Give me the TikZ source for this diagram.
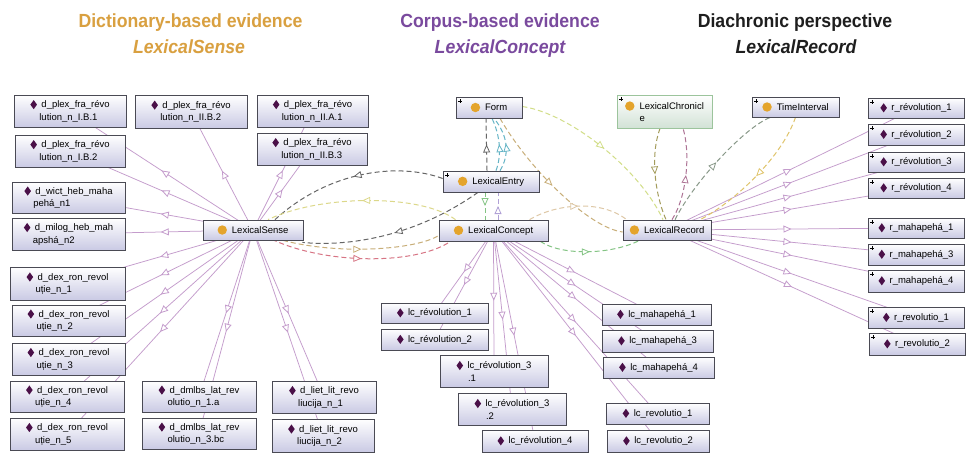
\documentclass[tikz,border=0pt]{standalone}
\usepackage{fontspec}
\setmainfont{Liberation Sans}
\usetikzlibrary{arrows.meta,decorations.markings,shadows,calc}

% palette
\definecolor{dictcol}{HTML}{D9A040}
\definecolor{corpcol}{HTML}{7A4A9E}
\definecolor{diacol}{HTML}{1E1E1E}
\definecolor{boxedge}{HTML}{4A4A54}
\definecolor{boxfill}{HTML}{CACAE4}
\definecolor{chredge}{HTML}{9CC49C}
\definecolor{chrfill}{HTML}{D2E2D6}
\definecolor{indcol}{HTML}{4A1048}
\definecolor{clscol}{HTML}{E4A42C}
\definecolor{instcol}{HTML}{C49CCC}
\definecolor{egray}{HTML}{666666}
\definecolor{eyellow}{HTML}{DCD88A}
\definecolor{etan}{HTML}{C8AE78}
\definecolor{epink}{HTML}{D77484}
\definecolor{eteal}{HTML}{64B4C6}
\definecolor{egreen}{HTML}{84C484}
\definecolor{eviolet}{HTML}{B0A0D6}
\definecolor{eygreen}{HTML}{D2DE88}
\definecolor{eolive}{HTML}{A49C5C}
\definecolor{eplum}{HTML}{AE7496}
\definecolor{egrgr}{HTML}{889888}
\definecolor{eamber}{HTML}{E0C46A}
\definecolor{efaint}{HTML}{DEC8A6}

\pgfdeclarelayer{paper}
\pgfdeclarelayer{edges}
\pgfsetlayers{paper,edges,main}

% icons
\newcommand\dmd{\tikz[baseline=-0.6ex]\fill[indcol] (0pt,-4.6pt) -- (3.3pt,0pt) -- (0pt,4.6pt) -- (-3.3pt,0pt) -- cycle;}
\newcommand\clsdot{\tikz[baseline=-0.6ex]\fill[clscol] (0pt,0pt) circle (4.7pt);}
\newcommand\indA[1]{\dmd\hspace{4.5pt}#1}
\newcommand\indB[2]{\dmd\hspace{4.5pt}#1\\\hspace*{9pt}#2}
\newcommand\indC[2]{\dmd\hspace{4.5pt}#1\\\hspace*{11.5pt}#2}
\newcommand\clsA[1]{\clsdot\hspace{5pt}#1}
\newcommand\headtext[1]{\scalebox{0.93}[1]{#1}}

\tikzset{
  gbox/.style={draw=boxedge, line width=0.75pt, top color=white, bottom color=boxfill,
    drop shadow={shadow xshift=1.3pt, shadow yshift=-1.3pt, opacity=0.4, fill=black},
    inner xsep=3pt, inner ysep=1pt, align=left, font=\fontsize{9.5}{12.5}\selectfont},
  chrbox/.style={gbox, draw=chredge, bottom color=chrfill},
  plusmark/.style={path picture={
    \draw[line width=0.5pt, black]
      ($(path picture bounding box.north west)+(2.2pt,-4pt)$) -- +(4pt,0pt)
      ($(path picture bounding box.north west)+(4.2pt,-2pt)$) -- +(0pt,-4pt);}},
  ttl/.style={font=\fontsize{19}{22}\selectfont\bfseries, inner sep=0pt, anchor=base},
  ttlit/.style={font=\fontsize{19}{22}\selectfont\bfseries\itshape, inner sep=0pt, anchor=base},
  midtri/.style={postaction={decorate, decoration={markings,
    mark=at position 0.5 with {\arrow{Triangle[open, length=8pt, width=7pt, line width=0.8pt, color=#1, fill=white]}}}}},
  instedge/.style={draw=instcol, line width=0.75pt, midtri=instcol},
  dedge/.style={draw=#1, line width=1pt, dash pattern=on 5pt off 3pt, midtri=#1},
}

\begin{document}
\begin{tikzpicture}[x=1pt, y=-1pt]
\begin{pgfonlayer}{paper}
  \fill[white] (0,0) rectangle (968,456);
\end{pgfonlayer}
\path[use as bounding box] (0,0) rectangle (968,456);

% headings
\node[ttl, text=dictcol] (h1) at (190.5,27) {\headtext{Dictionary-based evidence}};
\node[ttlit, text=dictcol] (h1s) at (189,53) {\headtext{LexicalSense}};
\node[ttl, text=corpcol] (h2) at (500,27) {\headtext{Corpus-based evidence}};
\node[ttlit, text=corpcol] (h2s) at (500,53) {\headtext{LexicalConcept}};
\node[ttl, text=diacol] (h3) at (795,27) {\headtext{Diachronic perspective}};
\node[ttlit, text=diacol] (h3s) at (796,53) {\headtext{LexicalRecord}};

% classes
\node[gbox, minimum width=100pt, minimum height=20pt] (lsense) at (253,230) {\clsA{LexicalSense}};
\node[gbox, plusmark, minimum width=66pt, minimum height=21pt] (form) at (489,107.5) {\clsA{Form}};
\node[gbox, plusmark, minimum width=96pt, minimum height=21pt] (lentry) at (491,181.5) {\clsA{LexicalEntry}};
\node[gbox, minimum width=109pt, minimum height=21pt] (lconcept) at (493.5,230.5) {\clsA{LexicalConcept}};
\node[chrbox, plusmark, minimum width=95pt, minimum height=33pt] (lchron) at (664.5,111.5) {\clsA{LexicalChronicl}\\\hspace*{14.5pt}e};
\node[gbox, plusmark, minimum width=87pt, minimum height=20pt] (tint) at (795.5,107) {\clsA{TimeInterval}};
\node[gbox, minimum width=88pt, minimum height=20pt] (lrec) at (667,230) {\clsA{LexicalRecord}};

% dictionary senses
\node[gbox, minimum width=112pt, minimum height=32pt] (pIBa) at (70,111) {\indB{d\_plex\_fra\_révo}{lution\_n\_I.B.1}};
\node[gbox, minimum width=112pt, minimum height=33pt] (pIIBb) at (191,111.5) {\indB{d\_plex\_fra\_révo}{lution\_n\_II.B.2}};
\node[gbox, minimum width=111pt, minimum height=32pt] (pIIAa) at (312.5,111) {\indB{d\_plex\_fra\_révo}{lution\_n\_II.A.1}};
\node[gbox, minimum width=110pt, minimum height=32pt] (pIIBc) at (312,149) {\indB{d\_plex\_fra\_révo}{lution\_n\_II.B.3}};
\node[gbox, minimum width=110pt, minimum height=32pt] (pIBb) at (70,151) {\indB{d\_plex\_fra\_révo}{lution\_n\_I.B.2}};
\node[gbox, minimum width=113pt, minimum height=31pt] (wict) at (68.5,197.5) {\indB{d\_wict\_heb\_maha}{pehá\_n1}};
\node[gbox, minimum width=113pt, minimum height=32pt] (milog) at (68.5,234) {\indB{d\_milog\_heb\_mah}{apshá\_n2}};
\node[gbox, minimum width=115pt, minimum height=33pt] (dexa) at (67.5,283.5) {\indB{d\_dex\_ron\_revol}{uție\_n\_1}};
\node[gbox, minimum width=113pt, minimum height=31pt] (dexb) at (68.5,320.5) {\indB{d\_dex\_ron\_revol}{uție\_n\_2}};
\node[gbox, minimum width=113pt, minimum height=32pt] (dexc) at (68.5,359) {\indB{d\_dex\_ron\_revol}{uție\_n\_3}};
\node[gbox, minimum width=114pt, minimum height=31pt] (dexd) at (67,396.5) {\indB{d\_dex\_ron\_revol}{uție\_n\_4}};
\node[gbox, minimum width=114pt, minimum height=32pt] (dexe) at (67,434) {\indB{d\_dex\_ron\_revol}{uție\_n\_5}};
\node[gbox, minimum width=114pt, minimum height=31pt] (dmlbsa) at (199,396.5) {\indB{d\_dmlbs\_lat\_rev}{olutio\_n\_1.a}};
\node[gbox, minimum width=114pt, minimum height=31pt] (dmlbsb) at (199,433.5) {\indB{d\_dmlbs\_lat\_rev}{olutio\_n\_3.bc}};
\node[gbox, minimum width=104pt, minimum height=32pt] (lieta) at (324,397) {\indB{d\_liet\_lit\_revo}{liucija\_n\_1}};
\node[gbox, minimum width=102pt, minimum height=33pt] (lietb) at (323,435.5) {\indB{d\_liet\_lit\_revo}{liucija\_n\_2}};

% corpus concepts
\node[gbox, minimum width=107pt, minimum height=20pt] (lcra) at (434.5,313) {\indA{lc\_révolution\_1}};
\node[gbox, minimum width=107pt, minimum height=21pt] (lcrb) at (434.5,339.5) {\indA{lc\_révolution\_2}};
\node[gbox, minimum width=108pt, minimum height=32pt] (lcrc) at (494,371) {\indC{lc\_révolution\_3}{.1}};
\node[gbox, minimum width=108pt, minimum height=32pt] (lcrd) at (512,409) {\indC{lc\_révolution\_3}{.2}};
\node[gbox, minimum width=106pt, minimum height=22pt] (lcre) at (535,441) {\indA{lc\_révolution\_4}};
\node[gbox, minimum width=109pt, minimum height=21pt] (lcma) at (656.5,314.5) {\indA{lc\_mahapehá\_1}};
\node[gbox, minimum width=111pt, minimum height=22pt] (lcmc) at (657.5,341) {\indA{lc\_mahapehá\_3}};
\node[gbox, minimum width=111pt, minimum height=21pt] (lcmd) at (658.5,367.5) {\indA{lc\_mahapehá\_4}};
\node[gbox, minimum width=103pt, minimum height=21pt] (lcva) at (657.5,413.5) {\indA{lc\_revolutio\_1}};
\node[gbox, minimum width=102pt, minimum height=22pt] (lcvb) at (658,441) {\indA{lc\_revolutio\_2}};

% diachronic records
\node[gbox, plusmark, minimum width=96pt, minimum height=20pt] (rra) at (916,108) {\indA{r\_révolution\_1}};
\node[gbox, plusmark, minimum width=96pt, minimum height=21pt] (rrb) at (916,134.5) {\indA{r\_révolution\_2}};
\node[gbox, plusmark, minimum width=96pt, minimum height=20pt] (rrc) at (916,162) {\indA{r\_révolution\_3}};
\node[gbox, plusmark, minimum width=96pt, minimum height=20pt] (rrd) at (916,188) {\indA{r\_révolution\_4}};
\node[gbox, plusmark, minimum width=96pt, minimum height=20pt] (rma) at (916,228) {\indA{r\_mahapehá\_1}};
\node[gbox, plusmark, minimum width=96pt, minimum height=21pt] (rmc) at (916,254.5) {\indA{r\_mahapehá\_3}};
\node[gbox, plusmark, minimum width=96pt, minimum height=22pt] (rmd) at (916,281) {\indA{r\_mahapehá\_4}};
\node[gbox, plusmark, minimum width=96pt, minimum height=21pt] (rva) at (916,317.5) {\indA{r\_revolutio\_1}};
\node[gbox, plusmark, minimum width=96pt, minimum height=22pt] (rvb) at (917,344) {\indA{r\_revolutio\_2}};

\begin{pgfonlayer}{edges}
  % class-to-individual links
  \foreach \n in {pIBa,pIIBb,pIIAa,pIIBc,pIBb,wict,milog,dexa,dexb,dexc,dexd,dexe,dmlbsa,dmlbsb,lieta,lietb}
    \draw[instedge] (lsense.center) -- (\n.center);
  \foreach \n in {lcra,lcrb,lcrc,lcrd,lcre,lcma,lcmc,lcmd,lcva,lcvb}
    \draw[instedge] (lconcept.center) -- (\n.center);
  \foreach \n in {rra,rrb,rrc,rrd,rma,rmc,rmd,rva,rvb}
    \draw[instedge] (lrec.center) -- (\n.center);

  % object properties between classes
  \draw[dedge=egray] ([yshift=3pt]lentry.west) .. controls +(-43,-16) and +(55,-50) .. ([xshift=22pt]lsense.north);
  \draw[dedge=eyellow] ([xshift=-38pt]lconcept.north) .. controls +(-35,-26) and +(52,-25) .. ([xshift=15pt]lsense.north);
  \draw[dedge=egray] ([xshift=-13pt]lentry.south) .. controls +(-68,48) and +(38,4) .. ([xshift=-1pt,yshift=-2pt]lsense.south east);
  \draw[dedge=etan] ([xshift=30pt]lsense.south) .. controls +(57,15) and +(-22,14) .. ([yshift=-5pt]lconcept.west);
  \draw[dedge=epink] ([xshift=19pt,yshift=1pt]lsense.south) .. controls +(53,25) and +(-35,24) .. ([xshift=-43pt]lconcept.south);

  \draw[dedge=egray] ([xshift=-4pt]lentry.north) -- ([xshift=-3pt]form.south);
  \draw[dedge=eteal] ([xshift=5pt]lentry.north) .. controls +(6,-16) and +(8,17) .. ([xshift=3pt]form.south);
  \draw[dedge=eteal] ([xshift=9pt]lentry.north) .. controls +(10,-16) and +(14,17) .. ([xshift=5pt]form.south);

  \draw[dedge=egreen] ([xshift=-6pt]lentry.south) -- ([xshift=-8.5pt]lconcept.north);
  \draw[dedge=eviolet] ([xshift=4.5pt]lconcept.north) -- ([xshift=7pt]lentry.south);

  \draw[dedge=eygreen] ([yshift=1pt]form.east) .. controls +(48,7) and +(-23,-50) .. ([xshift=-4pt]lrec.north);
  \draw[dedge=etan] ([xshift=11pt]form.south) .. controls +(30,52) and +(-33,-4) .. ([yshift=-2pt]lrec.west);
  \draw[dedge=efaint] ([xshift=36pt]lconcept.north) .. controls +(25,-15) and +(-27,-21) .. ([xshift=4pt]lrec.north west);
  \draw[dedge=egreen] ([xshift=-8pt]lconcept.south east) .. controls +(20,14) and +(-30,15) .. ([xshift=17pt]lrec.south west);

  \draw[dedge=eolive] ([xshift=-4.5pt]lchron.south) .. controls +(-10,27) and +(-11,-25) .. ([xshift=-1pt]lrec.north);
  \draw[dedge=eplum] ([xshift=5pt]lrec.north) .. controls +(16,-25) and +(7,22) .. ([xshift=18.5pt]lchron.south);

  \draw[dedge=egrgr] ([xshift=8pt]lrec.north) .. controls +(20,-40) and +(-23,8) .. ([xshift=-25pt]tint.south);
  \draw[dedge=eamber] (tint.south) .. controls +(-15,43) and +(30,-15) .. ([xshift=33pt]lrec.north);
\end{pgfonlayer}
\end{tikzpicture}
\end{document}
